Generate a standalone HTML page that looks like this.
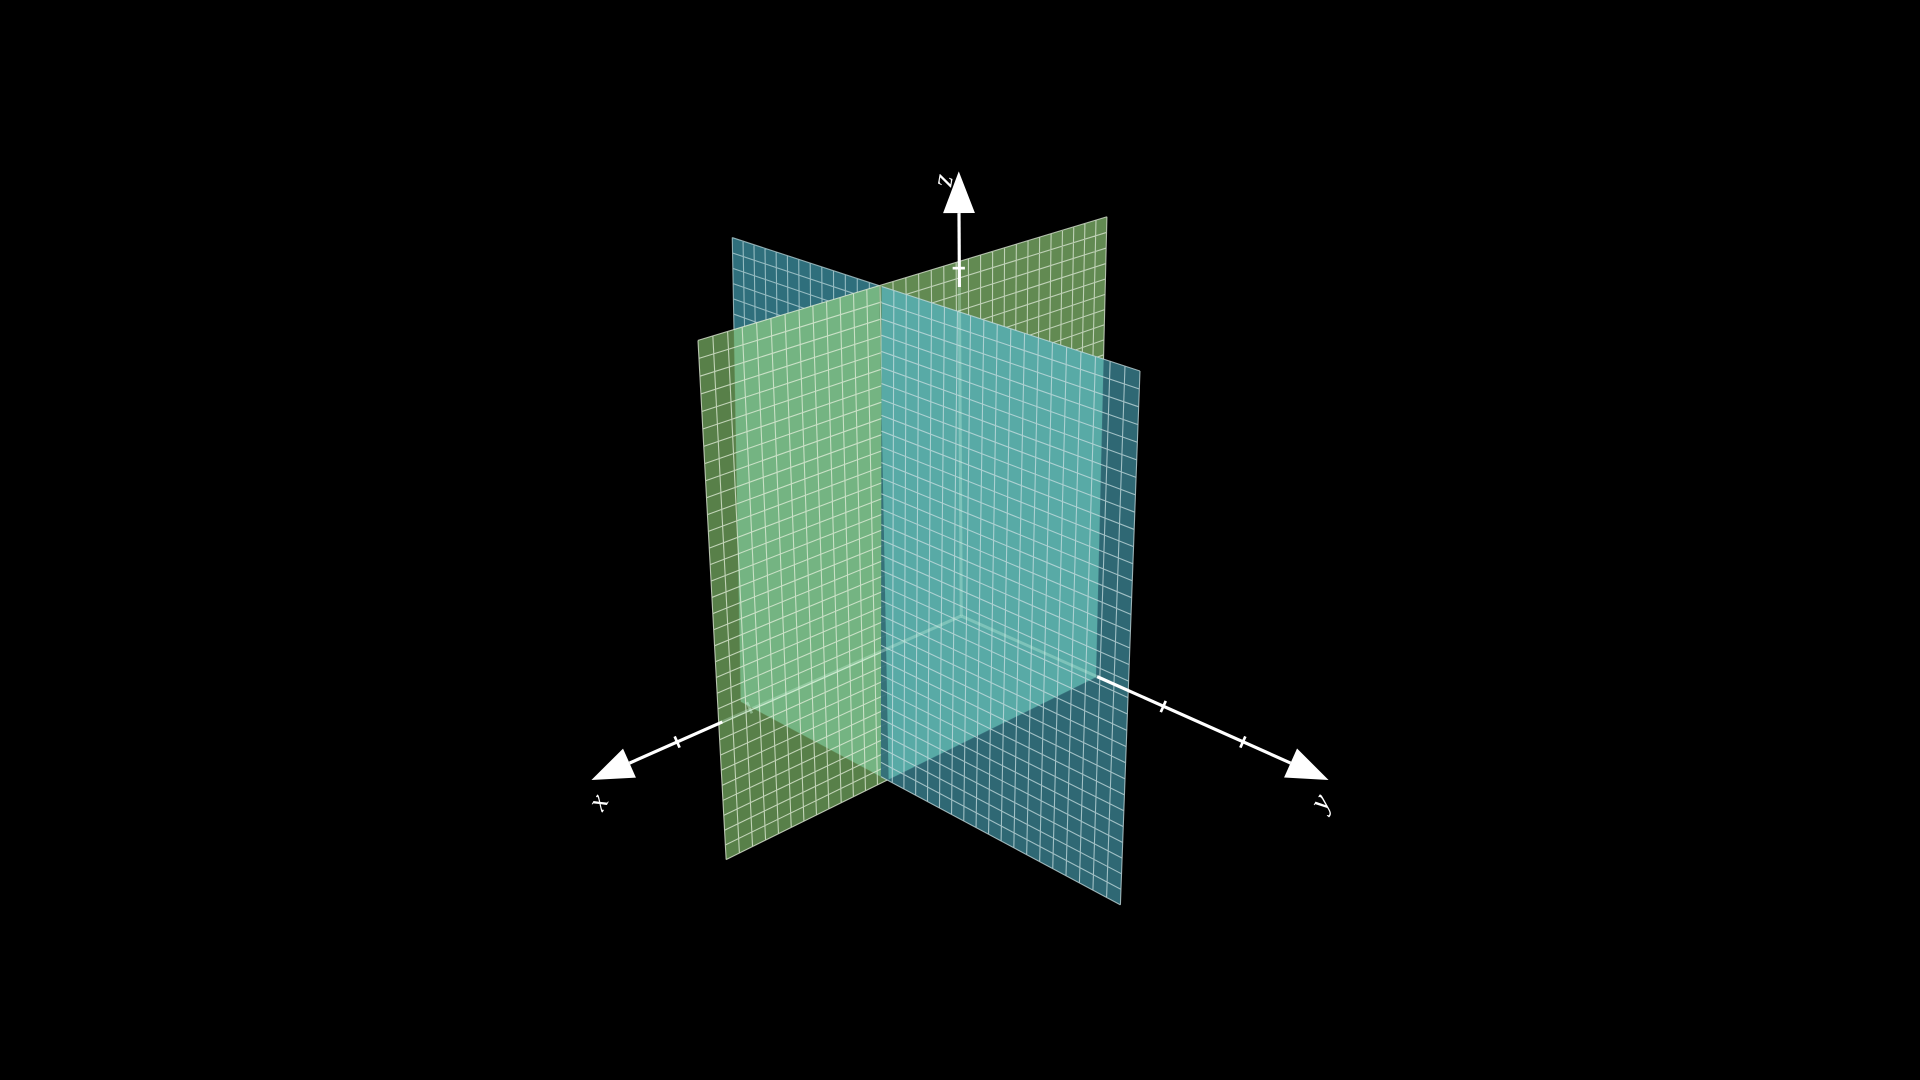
<!DOCTYPE html>
<html>
<head>
<meta charset="utf-8">
<style>
  html,body{margin:0;padding:0;background:#000;overflow:hidden;}
  svg{display:block;}
  text{font-family:"Liberation Serif",serif;font-style:italic;fill:#fff;}
</style>
</head>
<body>
<svg id="scene" width="1920" height="1080" viewBox="0 0 1568 882" xmlns="http://www.w3.org/2000/svg">
  <rect x="0" y="0" width="1568" height="882" fill="#000"/>
  <g id="planes"></g>
  <g id="axesFront"></g>
</svg>
<script>
// ---- data ----
const gridDivisionsU = [32, 32];   // columns for [green, blue]
const gridDivisionsV = [32, 32];   // rows for [green, blue]
const axisNames = ["x", "y", "z"];
const xTicks = [1, 2];
const yTicks = [1, 2];
const zTicks = [1];

// ---- projection (scene geometry) ----
const NS = "http://www.w3.org/2000/svg";
const origin = [785, 503];
const greenQuad = [[570,278],[904,177],[895,553],[593,702]];
const blueQuad  = [[598,194],[931,303],[915,739],[605,573]];
const splitX = [718, 720];

function homography(q){
  const [x0,y0]=q[0],[x1,y1]=q[1],[x2,y2]=q[2],[x3,y3]=q[3];
  const dx1=x1-x2,dx2=x3-x2,dx3=x0-x1+x2-x3,dy1=y1-y2,dy2=y3-y2,dy3=y0-y1+y2-y3;
  const den=dx1*dy2-dx2*dy1;
  const g=(dx3*dy2-dx2*dy3)/den, h=(dx1*dy3-dx3*dy1)/den;
  const a=x1-x0+g*x1,b=x3-x0+h*x3,c=x0,d=y1-y0+g*y1,e=y3-y0+h*y3,f=y0;
  return (u,v)=>{const w=g*u+h*v+1;return [(a*u+b*v+c)/w,(d*u+e*v+f)/w];};
}
function findSplit(H,x){
  let lo=0,hi=1;
  const inc = H(1,0)[0] > H(0,0)[0];
  for(let i=0;i<50;i++){const m=(lo+hi)/2;const px=H(m,0)[0];if((px<x)===inc)lo=m;else hi=m;}
  return (lo+hi)/2;
}
function polyPts(H,u0,u1){
  return [H(u0,0),H(u1,0),H(u1,1),H(u0,1)].map(p=>p[0].toFixed(2)+","+p[1].toFixed(2)).join(" ");
}
function el(tag,attrs,parent){const e=document.createElementNS(NS,tag);for(const k in attrs)e.setAttribute(k,attrs[k]);parent.appendChild(e);return e;}

const planes=document.getElementById("planes");
const defs=el("defs",{},planes);

function drawPart(H,u0,u1,fill,name,opacity){
  const g=el("g",{},planes);
  
  
  const poly=el("polygon",{points:polyPts(H,u0,u1),fill:fill,"fill-opacity":opacity},g);
  
  
  return g;
}
function drawGrid(H,u0,u1,nu,nv,color,parent,name){
  let d="";
  for(let i=0;i<=nu;i++){
    const u=i/nu; if(u<u0-1e-9||u>u1+1e-9)continue;
    const a=H(u,0),b=H(u,1);d+=`M${a[0].toFixed(2)},${a[1].toFixed(2)}L${b[0].toFixed(2)},${b[1].toFixed(2)}`;
  }
  for(let j=0;j<=nv;j++){
    const v=j/nv;const a=H(u0,v),b=H(u1,v);d+=`M${a[0].toFixed(2)},${a[1].toFixed(2)}L${b[0].toFixed(2)},${b[1].toFixed(2)}`;
  }
  const p=el("path",{d:d,stroke:color,"stroke-width":0.9,fill:"none","stroke-opacity":0.75},parent);
  
  
}

const HG=homography(greenQuad), HB=homography(blueQuad);
const ug=findSplit(HG,splitX[0]), ub=findSplit(HB,splitX[1]);

const cpBlueFar=el("clipPath",{id:"cpBlueFar"},defs);
el("polygon",{points:polyPts(HB,0,ub)},cpBlueFar);
const cpGreenFar=el("clipPath",{id:"cpGreenFar"},defs);
el("polygon",{points:polyPts(HG,ug,1)},cpGreenFar);

let g1=drawPart(HB,0,ub,"#2f6f7c","blue-plane-far",1);
drawGrid(HB,0,ub,gridDivisionsU[1],gridDivisionsV[1],"#b8d4d8",g1,"blue-plane-far");
let g2=drawPart(HG,ug,1,"#628a52","green-plane-far",1);
drawGrid(HG,ug,1,gridDivisionsU[0],gridDivisionsV[0],"#dfe8d8",g2,"green-plane-far");

let g3=drawPart(HG,0,ug,"#5f8a4f","green-plane-near",0.93);
const ov1=el("polygon",{points:polyPts(HG,0,ug),fill:"#74b482","clip-path":"url(#cpBlueFar)"},g3);


drawGrid(HG,0,ug,gridDivisionsU[0],gridDivisionsV[0],"#e6efdc",g3,"green-plane-near");
let g4=drawPart(HB,ub,1,"#33707d","blue-plane-near",0.93);
const ov2=el("polygon",{points:polyPts(HB,ub,1),fill:"#58aaa6","clip-path":"url(#cpGreenFar)"},g4);


drawGrid(HB,ub,1,gridDivisionsU[1],gridDivisionsV[1],"#c8dde0",g4,"blue-plane-near");

// axis parts seen through the planes
const axisTip = {x:[483,637], y:[1085,637], z:[783,140]};
const axisVisibleFrom = {x:0.646, y:0.37, z:0.74};
axisNames.forEach(ax=>{
  const tip=axisTip[ax];
  const dx=tip[0]-origin[0], dy=tip[1]-origin[1];
  const f=axisVisibleFrom[ax];
  const hid=el("line",{x1:origin[0],y1:origin[1],x2:origin[0]+dx*f,y2:origin[1]+dy*f,stroke:"#d8ffe8",
    "stroke-width":2.5,"stroke-opacity":0.3},planes);
  
  
});

// ---- axes ----
const axisUnit = {x:[-59,28], y:[65,29], z:[0,-142]};
const tickSets = {x:xTicks, y:yTicks, z:zTicks};
const tickOrigin = {x:[671,550], y:[885,548], z:[783,361]};
const front=document.getElementById("axesFront");

axisNames.forEach(ax=>{
  const tip=axisTip[ax];
  const dx=tip[0]-origin[0], dy=tip[1]-origin[1], L=Math.hypot(dx,dy);
  const ux=dx/L, uy=dy/L;
  const headLen=34, headW=13;
  const base=[tip[0]-ux*headLen, tip[1]-uy*headLen];
  const f=axisVisibleFrom[ax];
  const start=[origin[0]+dx*f, origin[1]+dy*f];
  const ln=el("line",{x1:start[0],y1:start[1],x2:base[0],y2:base[1],stroke:"#fff","stroke-width":2.6},front);
  
  
  const px=-uy, py=ux;
  const head=el("polygon",{points:`${tip[0]},${tip[1]} ${base[0]+px*headW},${base[1]+py*headW} ${base[0]-px*headW},${base[1]-py*headW}`,fill:"#fff"},front);
  
  
  tickSets[ax].forEach(t=>{
    const c=[tickOrigin[ax][0]+axisUnit[ax][0]*t, tickOrigin[ax][1]+axisUnit[ax][1]*t];
    const hidden = (ax==="x" && t===1);
    const tl=el("line",{x1:c[0]-px*5,y1:c[1]-py*5,x2:c[0]+px*5,y2:c[1]+py*5,
      stroke:hidden?"#d8ffe8":"#fff","stroke-opacity":hidden?0.4:1,"stroke-width":2.2},front);
    
    
  });
});
const labelPos = {x:[490,656,-60], y:[1080,656,-60], z:[772,148,100]};
axisNames.forEach(ax=>{
  const p=labelPos[ax];
  const t=el("text",{x:0,y:0,"font-size":24,"text-anchor":"middle","dominant-baseline":"middle",
    transform:`translate(${p[0]},${p[1]}) rotate(${p[2]})`},front);
  t.textContent=ax;
  
  
});
</script>
</body>
</html>
